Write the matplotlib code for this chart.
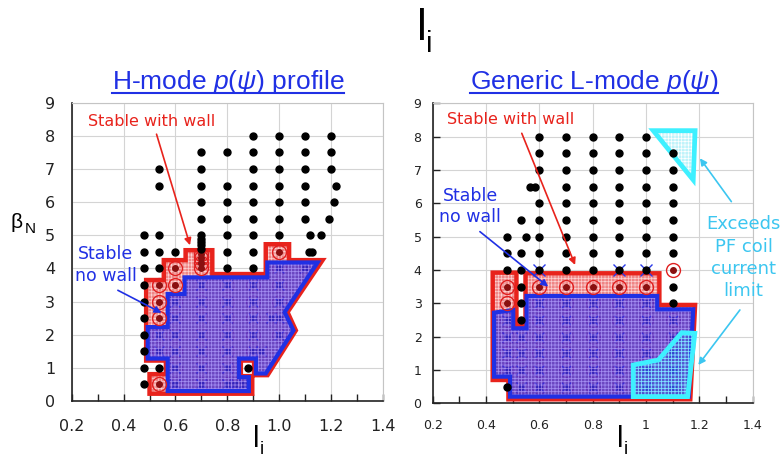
import numpy as np
import matplotlib.pyplot as plt
from matplotlib.patches import Polygon
from matplotlib.lines import Line2D
from matplotlib import font_manager

W, H = 784, 459

# ---------------- H-mode p(psi) profile ----------------
# unstable equilibria, (beta_N row, [l_i values])
h_unstable = [
    (8.0, [0.9, 1.0, 1.1, 1.2]),
    (7.5, [0.7, 0.8, 0.9, 1.0, 1.1, 1.2]),
    (7.0, [0.535, 0.7, 0.9, 1.0, 1.1, 1.2]),
    (6.5, [0.535, 0.7, 0.8, 0.9, 1.0, 1.1, 1.22]),
    (6.0, [0.7, 0.8, 0.9, 1.0, 1.1, 1.21]),
    (5.5, [0.7, 0.8, 0.9, 1.0, 1.1, 1.19]),
    (5.0, [0.48, 0.535, 0.7, 0.8, 0.9, 1.0, 1.12, 1.16]),
    (4.9, [0.7]), (4.8, [0.7]), (4.7, [0.7]), (4.6, [0.7]),
    (4.5, [0.48, 0.535, 0.6, 0.8, 0.9, 1.115, 1.125]),
    (4.0, [0.48, 0.535, 0.8, 0.9]),
    (3.5, [0.48]), (3.0, [0.48]), (2.5, [0.48]), (2.0, [0.48]), (1.5, [0.48]),
    (1.0, [0.48, 0.535, 0.88]),
    (0.5, [0.48]),
]
# stable only with a wall
h_wall_li = [0.535, 0.535, 0.535, 0.535, 0.6, 0.6, 0.7, 0.7, 0.7, 0.7, 1.0]
h_wall_bn = [0.5, 2.5, 3.0, 3.5, 3.5, 4.0, 4.0, 4.15, 4.3, 4.45, 4.5]
# stable without a wall
h_nowall = [
    (4.0, [1.0, 1.1]),
    (3.5, [0.7, 0.8, 0.9, 1.0]),
    (3.0, [0.6, 0.7, 0.8, 0.9, 1.0]),
    (2.5, [0.6, 0.7, 0.8, 0.9, 0.97, 1.0]),
    (2.0, [0.535, 0.6, 0.7, 0.8, 0.9, 1.0]),
    (1.5, [0.535, 0.6, 0.7, 0.8, 0.9, 0.93]),
    (1.0, [0.6, 0.7, 0.8]),
    (0.5, [0.6, 0.7, 0.8, 0.83, 0.86]),
]
# region boundaries
h_wall_poly_li = [0.50, 0.896, 0.896, 0.852, 0.852, 0.903, 0.903, 0.955, 1.064, 1.032, 1.167,
                  1.038, 1.038, 0.948, 0.948, 0.742, 0.742, 0.639, 0.639, 0.555, 0.555, 0.487,
                  0.487, 0.563, 0.563, 0.50]
h_wall_poly_bn = [0.22, 0.22, 0.75, 0.75, 1.22, 1.22, 0.78, 0.78, 2.13, 2.68, 4.25,
                  4.25, 4.73, 4.73, 3.83, 3.83, 4.55, 4.55, 4.25, 4.25, 3.65, 3.65,
                  1.22, 1.22, 0.81, 0.81]
h_nowall_poly_li = [0.57, 0.883, 0.883, 0.845, 0.845, 0.91, 0.91, 0.948, 1.055, 1.021, 1.148,
                    0.954, 0.954, 0.635, 0.635, 0.57, 0.57, 0.493, 0.493, 0.57]
h_nowall_poly_bn = [0.3, 0.3, 0.72, 0.72, 1.28, 1.28, 0.83, 0.83, 2.13, 2.68, 4.18,
                    4.18, 3.73, 3.73, 3.23, 3.23, 2.23, 2.23, 1.28, 1.28]

# ---------------- Generic L-mode p(psi) ----------------
l_unstable = [
    (8.0, [0.6, 0.7, 0.8, 0.9, 1.0]),
    (7.5, [0.6, 0.7, 0.8, 0.9, 1.0, 1.1]),
    (7.0, [0.6, 0.7, 0.8, 0.9, 1.0, 1.1]),
    (6.5, [0.565, 0.585, 0.7, 0.8, 0.9, 1.0, 1.1]),
    (6.0, [0.6, 0.7, 0.8, 0.9, 1.0, 1.1]),
    (5.5, [0.533, 0.6, 0.7, 0.8, 0.9, 1.0, 1.1]),
    (5.0, [0.477, 0.55, 0.6, 0.7, 0.8, 0.9, 1.0, 1.1]),
    (4.5, [0.477, 0.533, 0.6, 0.7, 0.8, 0.9, 1.0, 1.1]),
    (4.0, [0.477, 0.533, 0.6, 0.7, 0.8, 0.9, 1.0]),
    (3.5, [0.533, 1.1]),
    (3.0, [0.533, 1.1]),
    (2.5, [0.533]),
    (0.5, [0.477]),
]
l_wall_li = [0.477, 0.477, 0.6, 0.7, 0.8, 0.9, 1.0, 1.1]
l_wall_bn = [3.5, 3.0, 3.5, 3.5, 3.5, 3.5, 3.5, 4.0]
l_marginal_li = [0.6, 0.9, 1.0]
l_marginal_bn = [4.0, 4.0, 4.0]
l_nowall = [
    (3.0, [0.6, 0.7, 0.8, 0.9, 1.0]),
    (2.5, [0.477, 0.6, 0.7, 0.8, 0.9, 1.0, 1.1]),
    (2.0, [0.477, 0.533, 0.6, 0.7, 0.8, 0.9, 1.0, 1.1]),
    (1.5, [0.477, 0.533, 0.6, 0.7, 0.8, 0.9, 1.0, 1.1]),
    (1.0, [0.477, 0.533, 0.6, 0.7, 0.8, 0.9, 1.0, 1.1]),
    (0.5, [0.533, 0.6, 0.7, 0.8, 0.9, 1.0, 1.1]),
]
l_wall_poly_li = [0.425, 0.514, 0.514, 0.548, 0.548, 1.05, 1.05, 1.184, 1.166, 0.484, 0.484, 0.425]
l_wall_poly_bn = [3.92, 3.92, 2.33, 2.33, 3.9, 3.9, 2.95, 2.95, 0.12, 0.12, 0.7, 0.7]
l_nowall_poly_li = [0.43, 0.502, 0.502, 0.552, 0.552, 1.042, 1.042, 1.177, 1.16, 0.49, 0.49, 0.43]
l_nowall_poly_bn = [2.72, 2.8, 2.25, 2.25, 3.22, 3.22, 2.82, 2.82, 0.2, 0.2, 0.8, 0.8]
# PF coil current limit exceeded
pf_low_li = [0.952, 1.046, 1.134, 1.183, 1.156, 0.952]
pf_low_bn = [1.15, 1.3, 2.12, 2.1, 0.2, 0.2]
pf_high_li = [1.027, 1.184, 1.177]
pf_high_bn = [8.18, 8.18, 6.7]

li_ticks = [0.2, 0.4, 0.6, 0.8, 1.0, 1.2, 1.4]
li_minor = [0.3, 0.5, 0.7, 0.9, 1.1, 1.3]
bn_ticks = [0, 1, 2, 3, 4, 5, 6, 7, 8, 9]
h_xlabels = ['0.2', '0.4', '0.6', '0.8', '1.0', '1.2', '1.4']
l_xlabels = ['0.2', '0.4', '0.6', '0.8', '1', '1.2', '1.4']

RED = '#e8231c'
BLUE = '#2030e4'
CYAN = '#3ef0ff'
CYAN_TXT = '#3cc6f0'

names = {f.name for f in font_manager.fontManager.ttflist}
title_font = 'Liberation Sans Narrow' if 'Liberation Sans Narrow' in names else 'Liberation Sans'
plt.rcParams['mathtext.fontset'] = 'custom'
plt.rcParams['mathtext.rm'] = title_font
plt.rcParams['mathtext.it'] = title_font + ':italic'
plt.rcParams['hatch.linewidth'] = 0.5


def rows_to_xy(rows):
    li, bn = [], []
    for b, ls in rows:
        li.extend(ls)
        bn.extend([b] * len(ls))
    return li, bn


def add_region(ax, li, bn, face, hatch_col, alpha, z):
    xy = np.column_stack([li, bn])
    ax.add_patch(Polygon(xy, closed=True, facecolor=face, edgecolor='none', alpha=alpha, zorder=z))
    ax.add_patch(Polygon(xy, closed=True, facecolor='none', edgecolor=hatch_col,
                         hatch='+++++', lw=0, zorder=z + 0.1))


def add_outline(ax, li, bn, color, lw, z):
    ax.add_patch(Polygon(np.column_stack([li, bn]), closed=True, fill=False,
                         edgecolor=color, lw=lw, joinstyle='miter', zorder=z))


def draw_panel(ax, unstable, wall_li, wall_bn, nowall, wall_poly, nowall_poly):
    add_region(ax, *wall_poly, '#ef8585', '#fbd2d2', 1.0, 1)
    nw_li, nw_bn = rows_to_xy(nowall)
    ax.plot(nw_li, nw_bn, 'o', ms=10, mfc='none', mec='#c8306a', mew=0.8, ls='none', zorder=2)
    ax.plot(nw_li, nw_bn, 'x', ms=7, color='#3a2ad0', mew=1.0, ls='none', zorder=2)
    ax.plot(nw_li, nw_bn, 'o', ms=4, color='#2a0a70', ls='none', zorder=2)
    add_region(ax, *nowall_poly, '#3a2fd8', '#a48cf0', 0.72, 3)
    add_outline(ax, *wall_poly, RED, 3.2, 3.5)
    add_outline(ax, *nowall_poly, BLUE, 3.0, 4)
    ax.plot(wall_li, wall_bn, 'o', ms=10, mfc='none', mec='#e02020', mew=1.0, ls='none', zorder=4.6)
    ax.plot(wall_li, wall_bn, 'o', ms=4, color='#8a1010', ls='none', zorder=4.6)
    u_li, u_bn = rows_to_xy(unstable)
    ax.plot(u_li, u_bn, 'o', ms=5, color='black', ls='none', zorder=5)


def style_axes(ax, xlabels, size, ytick_len, xpad, ypad):
    ax.set_xlim(0.2, 1.4)
    ax.set_ylim(0, 9)
    ax.set_xticks(li_ticks)
    ax.set_xticklabels(xlabels)
    ax.set_xticks(li_minor, minor=True)
    ax.set_yticks(bn_ticks)
    ax.grid(True, which='major', color='#d4d4d4', lw=0.8)
    ax.set_axisbelow(True)
    ax.tick_params(axis='x', which='both', direction='in', length=5, width=1,
                   labelsize=size, pad=xpad, colors='#222222')
    ax.tick_params(axis='y', direction='in', length=ytick_len, width=1,
                   labelsize=size, pad=ypad, colors='#222222')
    for s in ('top', 'right'):
        ax.spines[s].set_color('#c4c4c4')
    for s in ('left', 'bottom'):
        ax.spines[s].set_color('#222222')
        ax.spines[s].set_linewidth(1.2)


def arrow(ax, tail, head, color):
    ax.annotate('', xy=head, xytext=tail,
                arrowprops=dict(arrowstyle='-|>', color=color, lw=1.2,
                                mutation_scale=10, shrinkA=0, shrinkB=0), zorder=6)


fig = plt.figure(figsize=(W / 100, H / 100), dpi=100)
axL = fig.add_axes([71.7 / W, 58 / H, 311.3 / W, 298.3 / H])
axR = fig.add_axes([432.7 / W, 55.7 / H, 320 / W, 300 / H])

# H-mode panel
draw_panel(axL, h_unstable, h_wall_li, h_wall_bn, h_nowall,
           (h_wall_poly_li, h_wall_poly_bn), (h_nowall_poly_li, h_nowall_poly_bn))
style_axes(axL, h_xlabels, 11.5, 0, 13, 12)
axL.text(0.51, 8.42, 'Stable with wall', color=RED, fontsize=11.5, ha='center', va='center')
arrow(axL, (0.527, 8.05), (0.656, 4.7), RED)
axL.text(0.332, 4.1, 'Stable\nno wall', color=BLUE, fontsize=12.5, ha='center', va='center',
         linespacing=1.25)
arrow(axL, (0.378, 3.34), (0.546, 2.66), BLUE)

# L-mode panel
draw_panel(axR, l_unstable, l_wall_li, l_wall_bn, l_nowall,
           (l_wall_poly_li, l_wall_poly_bn), (l_nowall_poly_li, l_nowall_poly_bn))
axR.plot(l_marginal_li, l_marginal_bn, 'x', ms=9, color='#2a3ae8', mew=1.0, ls='none', zorder=4.8)
add_region(axR, pf_low_li, pf_low_bn, '#2f78ee', '#7fe6ff', 0.4, 4.2)
add_outline(axR, pf_low_li, pf_low_bn, CYAN, 3.4, 4.5)
add_region(axR, pf_high_li, pf_high_bn, '#bff3fa', '#ffffff', 1.0, 4.2)
add_outline(axR, pf_high_li, pf_high_bn, CYAN, 3.4, 4.5)
style_axes(axR, l_xlabels, 9, 5, 11, 8)
axR.text(0.494, 8.5, 'Stable with wall', color=RED, fontsize=11.5, ha='center', va='center')
arrow(axR, (0.534, 8.1), (0.734, 4.15), RED)
axR.text(0.34, 5.9, 'Stable\nno wall', color=BLUE, fontsize=12.5, ha='center', va='center',
         linespacing=1.25)
arrow(axR, (0.377, 5.15), (0.633, 3.5), BLUE)
axR.text(1.366, 4.37, 'Exceeds\nPF coil\ncurrent\nlimit', color=CYAN_TXT, fontsize=13,
         ha='center', va='center', linespacing=1.3, clip_on=False)
arrow(axR, (1.32, 6.05), (1.202, 7.35), CYAN_TXT)
arrow(axR, (1.352, 2.8), (1.196, 1.15), CYAN_TXT)

# figure title l_i
fig.text(417 / W, 1 - 40 / H, 'l', fontsize=32, family='Liberation Sans', va='baseline', ha='left')
fig.text(426 / W, 1 - 52 / H, 'i', fontsize=21, family='Liberation Sans', va='baseline', ha='left')

# axis labels
for x0 in (253, 617):
    fig.text(x0 / W, 1 - 447 / H, 'l', fontsize=21, family='Liberation Sans', va='baseline', ha='left')
    fig.text((x0 + 7) / W, 1.5 / H, 'i', fontsize=13, family='Liberation Sans', va='bottom', ha='left')
fig.text(11 / W, 1 - 228 / H, '\u03b2', fontsize=15, family='Liberation Sans', va='baseline', ha='left')
fig.text(25 / W, 1 - 233 / H, 'N', fontsize=11, family='Liberation Sans', va='baseline', ha='left')

# panel titles, underlined
title_size = 22 if title_font == 'Liberation Sans Narrow' else 19
titles = []
for xc, s in ((228, r'H-mode $p(\psi)$ profile'), (594, r'Generic L-mode $p(\psi)$')):
    titles.append(fig.text(xc / W, 1 - 89 / H, s, fontsize=title_size, family=title_font,
                           color=BLUE, ha='center', va='baseline'))
fig.canvas.draw()
for t in titles:
    bb = t.get_window_extent()
    y = (H - 93) / H
    fig.add_artist(Line2D([bb.x0 / W, bb.x1 / W], [y, y], color=BLUE, lw=1.5))

fig.savefig('out.png', dpi=100)
